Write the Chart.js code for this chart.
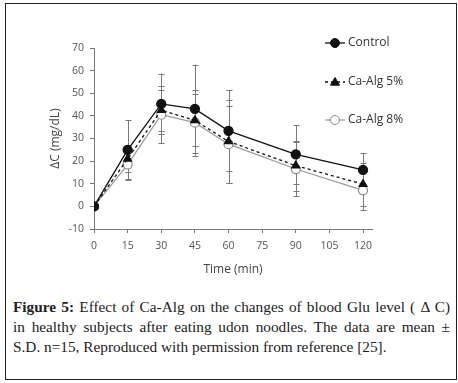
<!DOCTYPE html>
<html>
<head>
<meta charset="utf-8">
<script src="https://cdn.jsdelivr.net/npm/chart.js@4"></script>
<style>
  body { margin: 0; background: #fff; }
  #frame { position: absolute; left: 5px; top: 3px; width: 450px; height: 375px; border: 1px solid #222; }
  #wrap { position: absolute; left: 0; top: 0; width: 458px; height: 290px; }
  #caption { position: absolute; left: 13px; top: 297px; width: 437px; font-family: "Liberation Serif", serif; font-size: 15.3px; line-height: 20px; color: #222; }
  #caption div { text-align: justify; text-align-last: justify; }
  #caption div.last { text-align-last: left; }
</style>
</head>
<body>
<div id="frame"></div>
<div id="wrap"><canvas id="myChart" width="458" height="290"></canvas></div>
<div id="caption">
  <div><b>Figure 5:</b> Effect of Ca-Alg on the changes of blood Glu level ( &Delta; C)</div>
  <div>in healthy subjects after eating udon noodles. The data are mean &plusmn;</div>
  <div class="last">S.D. n=15, Reproduced with permission from reference [25].</div>
</div>
<script>
const ctx = document.getElementById("myChart").getContext("2d");

const times = [0, 15, 30, 45, 60, 90, 120];
const x_ticks = [0, 15, 30, 45, 60, 75, 90, 105, 120];
const control_mean = [0, 25, 45.3, 43.1, 33.4, 23, 16.1];
const alg5_mean = [0, 21, 42.5, 38, 28.7, 18, 9.8];
const alg8_mean = [0, 18.5, 40.5, 37, 27.5, 16.5, 7.1];
const control_sd = [0, 13, 13.4, 19.6, 17.9, 13, 7.5];
const alg5_sd = [0, 6, 9, 11.5, 18.5, 11, 9.5];
const alg8_sd = [0, 7, 12.5, 14.6, 17, 12, 8.8];

function points(means) {
  return times.map((t, i) => ({ x: t, y: means[i] }));
}

let dataset_list = [];

dataset_list.push({
  label: "Control",
  data: points(control_mean),
  sd: control_sd,
  borderColor: "#111",
  backgroundColor: "#111",
  borderWidth: 1.3,
  pointStyle: "circle",
  pointRadius: 4.5,
  showLine: true,
  tension: 0,
});

dataset_list.push({
  label: "Ca-Alg 5%",
  data: points(alg5_mean),
  sd: alg5_sd,
  borderColor: "#111",
  backgroundColor: "#111",
  borderWidth: 1.3,
  borderDash: [3, 3],
  pointStyle: "triangle",
  pointRadius: 4.5,
  showLine: true,
  tension: 0,
});

dataset_list.push({
  label: "Ca-Alg 8%",
  data: points(alg8_mean),
  sd: alg8_sd,
  borderColor: "#999",
  backgroundColor: "#fff",
  pointBorderColor: "#888",
  borderWidth: 1.2,
  pointStyle: "circle",
  pointRadius: 4.5,
  showLine: true,
  tension: 0,
});

// error bars (mean +/- SD)
const errorBars = {
  id: "errorBars",
  beforeDatasetsDraw(chart) {
    const c = chart.ctx;
    const xs = chart.scales.x, ys = chart.scales.y;
    c.save();
    c.strokeStyle = "#7a7a7a";
    c.lineWidth = 1;
    chart.data.datasets.forEach((ds) => {
      ds.data.forEach((p, i) => {
        const sd = ds.sd[i];
        if (!sd) return;
        const px = Math.round(xs.getPixelForValue(p.x)) + 0.5;
        const top = ys.getPixelForValue(p.y + sd);
        const bot = ys.getPixelForValue(p.y - sd);
        c.beginPath();
        c.moveTo(px, top); c.lineTo(px, bot);
        c.moveTo(px - 3, Math.round(top) + 0.5); c.lineTo(px + 3, Math.round(top) + 0.5);
        c.moveTo(px - 3, Math.round(bot) + 0.5); c.lineTo(px + 3, Math.round(bot) + 0.5);
        c.stroke();
      });
    });
    c.restore();
  },
};

// legend drawn at the upper right, Excel style
const sideLegend = {
  id: "sideLegend",
  afterDraw(chart) {
    const c = chart.ctx;
    const rows = [43, 82, 120];
    c.save();
    chart.data.datasets.forEach((ds, i) => {
      const y = rows[i];
      c.strokeStyle = ds.borderColor;
      c.lineWidth = ds.borderWidth;
      c.setLineDash(ds.borderDash || []);
      c.beginPath();
      c.moveTo(325, y); c.lineTo(345, y);
      c.stroke();
      c.setLineDash([]);
      c.fillStyle = ds.backgroundColor;
      c.strokeStyle = ds.pointBorderColor || ds.borderColor;
      c.lineWidth = 1;
      c.beginPath();
      if (ds.pointStyle === "triangle") {
        const r = ds.pointRadius;
        c.moveTo(335, y - r); c.lineTo(335 + r, y + r * 0.7); c.lineTo(335 - r, y + r * 0.7); c.closePath();
      } else {
        c.arc(335, y, ds.pointRadius, 0, Math.PI * 2);
      }
      c.fill(); c.stroke();
      c.fillStyle = "#333";
      c.font = "12px 'Open Sans'";
      c.textBaseline = "middle";
      c.fillText(ds.label, 348, y);
    });
    c.restore();
  },
};

var myChart = new Chart(ctx, {
  type: "scatter",
  data: {
    datasets: dataset_list,
  },
  plugins: [errorBars, sideLegend],
  options: {
    responsive: false,
    animation: false,
    layout: { padding: { left: 48, right: 86, top: 48, bottom: 10 } },
    plugins: {
      legend: { display: false },
      tooltip: { enabled: false },
    },
    scales: {
      x: {
        type: "linear",
        min: 0,
        max: 124,
        afterBuildTicks(scale) {
          scale.ticks = x_ticks.map((v) => ({ value: v }));
        },
        afterFit(scale) { scale.height = 51; },
        ticks: { color: "#555", padding: 7, maxRotation: 0, autoSkip: false, font: { family: "Open Sans", size: 10.5 } },
        grid: { display: true, drawOnChartArea: false, drawTicks: true, tickLength: 4, color: "#777" },
        border: { color: "#777" },
        title: { display: true, text: "Time (min)", color: "#444", padding: { top: 0, bottom: 3 }, font: { family: "Open Sans", size: 12 } },
      },
      y: {
        min: -10,
        max: 70,
        afterFit(scale) { scale.width = 46; },
        ticks: { stepSize: 10, color: "#555", padding: 6, font: { family: "Open Sans", size: 10.5 } },
        grid: { display: true, drawOnChartArea: false, drawTicks: true, tickLength: 4, color: "#777" },
        border: { color: "#777" },
        title: { display: true, text: "ΔC (mg/dL)", color: "#444", padding: 0, font: { family: "Open Sans", size: 12 } },
      },
    },
  },
});
</script>
</body>
</html>
